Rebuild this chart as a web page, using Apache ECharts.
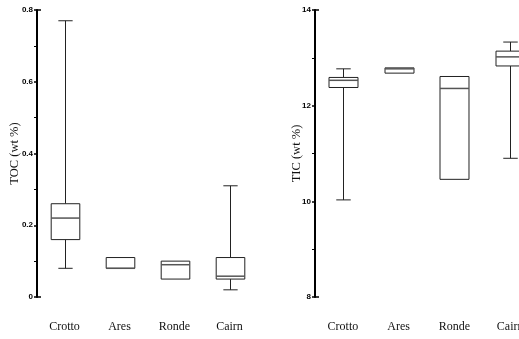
<!DOCTYPE html>
<html><head><meta charset="utf-8">
<script src="https://cdn.jsdelivr.net/npm/echarts@6/dist/echarts.min.js"></script>
<style>html,body{margin:0;padding:0;background:#fff;overflow:hidden}#c{width:545px;height:339px}</style>
</head><body><div id="c"></div>
<script>
// Data
var categories = ['Crotto', 'Ares', 'Ronde', 'Cairn'];
// [min, Q1, median, Q3, max]
var tocValues = [
  [0.08, 0.16, 0.22, 0.26, 0.77],
  [0.08, 0.08, 0.08, 0.11, 0.11],
  [0.05, 0.05, 0.09, 0.10, 0.10],
  [0.02, 0.05, 0.058, 0.11, 0.31]
];
var ticValues = [
  [10.03, 12.38, 12.53, 12.59, 12.77],
  [12.68, 12.68, 12.77, 12.79, 12.79],
  [10.46, 10.46, 12.36, 12.61, 12.61],
  [10.9, 12.83, 13.02, 13.14, 13.33]
];
var tocTicks = {min: 0, max: 0.8, interval: 0.2};
var ticTicks = {min: 8, max: 14, interval: 2};

function renderBox(params, api) {
  var x = api.value(0);
  var mn = api.coord([x, api.value(1)]);
  var q1 = api.coord([x, api.value(2)]);
  var md = api.coord([x, api.value(3)]);
  var q3 = api.coord([x, api.value(4)]);
  var mx = api.coord([x, api.value(5)]);
  var bw = api.size([1, 0])[0] * 0.52;
  var cw = bw * 0.5;
  var cx = Math.round(mn[0]) + 0.5;
  var st = {stroke: '#222', lineWidth: 1, fill: null};
  var ch = [];
  if (mx[1] < q3[1] - 0.5) {
    ch.push({type: 'line', shape: {x1: cx, y1: mx[1], x2: cx, y2: q3[1]}, style: st});
    ch.push({type: 'line', shape: {x1: cx - cw / 2, y1: mx[1], x2: cx + cw / 2, y2: mx[1]}, style: st});
  }
  if (mn[1] > q1[1] + 0.5) {
    ch.push({type: 'line', shape: {x1: cx, y1: q1[1], x2: cx, y2: mn[1]}, style: st});
    ch.push({type: 'line', shape: {x1: cx - cw / 2, y1: mn[1], x2: cx + cw / 2, y2: mn[1]}, style: st});
  }
  ch.push({type: 'rect', shape: {x: cx - bw / 2, y: q3[1], width: bw, height: q1[1] - q3[1]},
    style: {stroke: '#222', lineWidth: 1, fill: '#fff'}});
  ch.push({type: 'line', shape: {x1: cx - bw / 2, y1: md[1], x2: cx + bw / 2, y2: md[1]},
    style: {stroke: '#555', lineWidth: 1.5}});
  return {type: 'group', children: ch};
}

function toData(vals) {
  return vals.map(function (v, i) { return [i].concat(v); });
}

var catAxis = function (gi) {
  return {
    type: 'category', gridIndex: gi, data: categories,
    axisLine: {show: false}, axisTick: {show: false},
    axisLabel: {fontFamily: 'Liberation Serif', fontSize: 12, color: '#111', margin: 24, interval: 0}
  };
};
var valAxis = function (gi, t, name, gap) {
  return {
    type: 'value', gridIndex: gi, position: 'left', min: t.min, max: t.max, interval: t.interval,
    name: name, nameLocation: 'middle', nameGap: gap, nameRotate: 90, nameMoveOverlap: false,
    nameTextStyle: {fontFamily: 'Liberation Serif', fontSize: 12.5, color: '#111'},
    axisLine: {show: true, lineStyle: {color: '#000', width: 2}},
    axisTick: {show: true, length: 3, lineStyle: {color: '#000', width: 1.5}},
    minorTick: {show: true, splitNumber: 2, length: 3, lineStyle: {color: '#000', width: 1}},
    axisLabel: {fontFamily: 'Liberation Sans', fontSize: 8, fontWeight: 'bold', color: '#000', margin: 4,
      formatter: function (v) { return String(+v.toFixed(2)); }},
    splitLine: {show: false}
  };
};
var capAxis = function (gi, t) {
  return {
    type: 'value', gridIndex: gi, position: 'left', offset: 0,
    min: t.min, max: t.max, interval: t.max - t.min,
    axisLine: {show: false}, axisLabel: {show: false}, splitLine: {show: false},
    axisTick: {show: true, inside: true, length: 4, lineStyle: {color: '#000', width: 1.5}}
  };
};

var chart = echarts.init(document.getElementById('c'), null, {renderer: 'canvas'});
chart.setOption({
  animation: false,
  backgroundColor: '#fff',
  grid: [
    {left: 37, top: 10, width: 220, height: 287},
    {left: 315, top: 10, width: 223, height: 287}
  ],
  xAxis: [catAxis(0), catAxis(1)],
  yAxis: [valAxis(0, tocTicks, 'TOC (wt %)', 16), valAxis(1, ticTicks, 'TIC (wt %)', 12),
          capAxis(0, tocTicks), capAxis(1, ticTicks)],
  series: [
    {type: 'custom', xAxisIndex: 0, yAxisIndex: 0, renderItem: renderBox,
     encode: {x: 0, y: [1, 2, 3, 4, 5]}, data: toData(tocValues)},
    {type: 'custom', xAxisIndex: 1, yAxisIndex: 1, renderItem: renderBox,
     encode: {x: 0, y: [1, 2, 3, 4, 5]}, data: toData(ticValues)}
  ]
});
</script></body></html>
